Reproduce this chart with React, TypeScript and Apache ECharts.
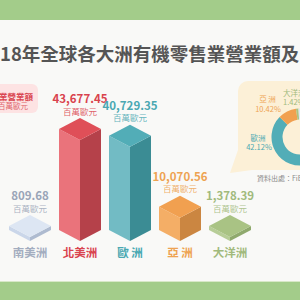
import React, { useEffect, useRef } from "react";
import * as echarts from "echarts";

const categories = ["南美洲", "北美洲", "歐 洲", "亞 洲", "大洋洲"];
const revenue = [809.68, 43677.45, 40729.35, 10070.56, 1378.39];
const unitLabel = "百萬歐元";
const sharePercent = [0.84, 45.18, 42.12, 10.42, 1.42];
const donutOrder = [1, 2, 3, 4, 0];
const donutLabelNames = ["", "", "歐洲", "亞 洲", "大洋洲"];

const palette = [
  { top: "#dde6f3", left: "#cad6e9", right: "#aebbd0", text: "#9aa5b8", name: "#a3adbf" },
  { top: "#df4f58", left: "#ea737b", right: "#b5414a", text: "#d9434e", name: "#d9434e" },
  { top: "#52adb7", left: "#72bbc4", right: "#3b8c94", text: "#4aa8b2", name: "#4aa8b2" },
  { top: "#f1a050", left: "#f4ae66", right: "#cb8641", text: "#eea352", name: "#eea352" },
  { top: "#a9c384", left: "#b7cd97", right: "#8fa96d", text: "#a1ba7c", name: "#a1ba7c" },
];

const FONT = "'Noto Sans CJK TC', 'Noto Sans', sans-serif";

const fmt = (v: number) =>
  v.toLocaleString("en-US", { minimumFractionDigits: 2, maximumFractionDigits: 2 });

export default function App() {
  const ref = useRef<HTMLDivElement>(null);
  useEffect(() => {
    const chart = echarts.init(ref.current as HTMLDivElement, null, { renderer: "svg" });
    const hw = 21;
    const hd = 11;
    const donutText = (text: string, x: number, y: number, color: string, align: string) => ({
      type: "text", z: 10, x, y,
      style: { text, fill: color, fontSize: 7.5, lineHeight: 8, fontFamily: FONT, align, verticalAlign: "middle" },
    });
    const option: any = {
      animation: false,
      backgroundColor: "#f9f9f7",
      grid: { left: 5, right: 45, top: 125.38, bottom: 59 },
      xAxis: {
        type: "category",
        data: categories,
        axisLine: { show: false },
        axisTick: { show: false },
        splitLine: { show: false },
        axisLabel: {
          margin: 5,
          fontSize: 11.5,
          fontWeight: "bold",
          fontFamily: FONT,
          color: (_v: any, i: number) => palette[i].name,
        },
      },
      yAxis: { type: "value", min: 0, max: 50000, show: false, splitLine: { show: false } },
      series: [
        {
          type: "custom",
          clip: false,
          z: 3,
          data: revenue.map((v, i) => [i, v]),
          renderItem: (_p: any, api: any) => {
            const i = api.value(0);
            const v = api.value(1);
            const top = api.coord([i, v]);
            const base = api.coord([i, 0]);
            const cx = base[0];
            const yb = base[1];
            const yt = Math.min(top[1], yb - 4);
            const c = palette[i];
            const peak = yt - 2 * hd;
            return {
              type: "group",
              children: [
                { type: "polygon", shape: { points: [[cx - hw, yt - hd], [cx, yt], [cx, yb], [cx - hw, yb - hd]] }, style: { fill: c.left } },
                { type: "polygon", shape: { points: [[cx, yt], [cx + hw, yt - hd], [cx + hw, yb - hd], [cx, yb]] }, style: { fill: c.right } },
                { type: "polygon", shape: { points: [[cx, peak], [cx + hw, yt - hd], [cx, yt], [cx - hw, yt - hd]] }, style: { fill: c.top } },
                {
                  type: "text", x: cx, y: peak - 20,
                  style: { text: fmt(v), align: "center", verticalAlign: "middle", fill: c.text, fontSize: 11.5, fontWeight: "bold", fontFamily: FONT },
                },
                {
                  type: "text", x: cx, y: peak - 7.5,
                  style: { text: unitLabel, align: "center", verticalAlign: "middle", fill: c.text, opacity: 0.85, fontSize: 8.5, fontFamily: FONT },
                },
              ],
            };
          },
        },
        {
          type: "pie",
          z: 5,
          center: [300, 137],
          radius: [17.5, 28.5],
          startAngle: 90,
          clockwise: true,
          label: { show: false },
          labelLine: { show: false },
          silent: true,
          data: donutOrder.map((i) => ({
            name: categories[i],
            value: sharePercent[i],
            itemStyle: { color: palette[i].top },
          })),
        },
      ],
      graphic: [
        { type: "rect", z: 1, shape: { x: 0, y: 0, width: 300, height: 20 }, style: { fill: "#a3cc8a" } },
        { type: "rect", z: 1, shape: { x: 0, y: 282, width: 300, height: 18 }, style: { fill: "#a3cc8a" } },
        { type: "rect", z: 1, shape: { x: 0, y: 281, width: 300, height: 1 }, style: { fill: "#d8e8c8" } },
        {
          type: "text", z: 10, x: 0, y: 53,
          style: { text: "18年全球各大洲有機零售業營業額及", fill: "#555555", fontSize: 18.5, fontWeight: "bold", fontFamily: FONT, align: "left", verticalAlign: "middle" },
        },
        { type: "rect", z: 1, shape: { x: -8, y: 84, width: 46, height: 29, r: 6 }, style: { fill: "#fde3e3" } },
        {
          type: "text", z: 10, x: -1, y: 95.5,
          style: { text: "業營業額", fill: "#d9434e", fontSize: 8.5, fontWeight: "bold", fontFamily: FONT, align: "left", verticalAlign: "middle" },
        },
        {
          type: "text", z: 10, x: -2, y: 105.5,
          style: { text: unitLabel, fill: "#e0666d", fontSize: 7.5, fontFamily: FONT, align: "left", verticalAlign: "middle" },
        },
        { type: "rect", z: 1, shape: { x: 238, y: 81, width: 80, height: 89, r: 10 }, style: { fill: "#fcf0d7" } },
        { type: "polygon", z: 1, shape: { points: [[238, 150], [252, 170], [230, 173]] }, style: { fill: "#fcf0d7" } },
        donutText(donutLabelNames[3], 267.5, 98.5, palette[3].text, "center"),
        donutText(sharePercent[3].toFixed(2) + "%", 268, 108, palette[3].text, "center"),
        donutText(donutLabelNames[4], 283, 92, palette[4].text, "left"),
        donutText(sharePercent[4].toFixed(2) + "%", 283, 101.5, palette[4].text, "left"),
        donutText(donutLabelNames[2], 258, 137, palette[2].text, "center"),
        donutText(sharePercent[2].toFixed(2) + "%", 259, 146.5, palette[2].text, "center"),
        {
          type: "text", z: 10, x: 257, y: 178,
          style: { text: "資料出處：FiBL", fill: "#8a8a8a", fontSize: 7, fontFamily: FONT, align: "left", verticalAlign: "middle" },
        },
      ],
    };
    chart.setOption(option);
    return () => chart.dispose();
  }, []);
  return <div ref={ref} style={{ position: "fixed", left: 0, top: 0, width: 300, height: 300 }} />;
}
